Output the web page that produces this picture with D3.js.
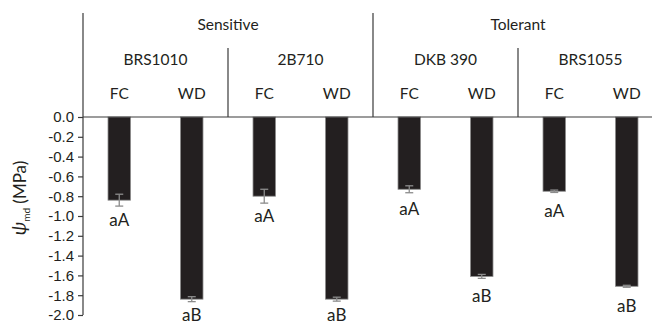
<!DOCTYPE html>
<html>
<head>
<meta charset="utf-8">
<script src="https://cdn.jsdelivr.net/npm/d3@7"></script>
<style>
  html, body { margin: 0; padding: 0; background: #fff; }
  svg { display: block; font-family: Lato, "Open Sans", sans-serif; }
</style>
</head>
<body>
<svg id="chart" width="652" height="325"></svg>
<script>
// ---- data ----
const groups = ["Sensitive", "Tolerant"];
const cultivars = ["BRS1010", "2B710", "DKB 390", "BRS1055"];
const cultivarGroup = ["Sensitive", "Sensitive", "Tolerant", "Tolerant"];
const treatments = ["FC", "WD"];
const values = [-0.84, -1.84, -0.80, -1.84, -0.73, -1.61, -0.75, -1.71];
const errors = [0.06, 0.025, 0.07, 0.02, 0.035, 0.02, 0.012, 0.01];
const letters = ["aA", "aB", "aA", "aB", "aA", "aB", "aA", "aB"];
const yTicks = [0, -0.2, -0.4, -0.6, -0.8, -1.0, -1.2, -1.4, -1.6, -1.8, -2.0];

// ---- build ----
const cats = [];
cultivars.forEach((c, ci) => treatments.forEach((t, ti) => {
  const i = ci * treatments.length + ti;
  cats.push({ id: c + "|" + t, cultivar: c, group: cultivarGroup[ci], treat: t,
              value: values[i], err: errors[i], letter: letters[i] });
}));

const svg = d3.select("#chart");
const left = 83, right = 663, zeroY = 117, bottomY = 315, topY = 13;
const textColor = "#231f20";
const lineColor = "#3a3a3a";

const x = d3.scaleBand().domain(cats.map(d => d.id)).range([left, right])
  .paddingInner(0.69).paddingOuter(0.345);
const y = d3.scaleLinear().domain([-2, 0]).range([bottomY, zeroY]);

const step = x.step();
function spanOf(filterFn) {
  const ids = cats.filter(filterFn).map(d => d.id);
  const xs = ids.map(id => x(id));
  const x0 = d3.min(xs) - (step - x.bandwidth()) / 2;
  const x1 = d3.max(xs) + x.bandwidth() + (step - x.bandwidth()) / 2;
  return [x0, x1];
}

// y axis
const yAxis = d3.axisLeft(y).tickValues(yTicks).tickSize(5).tickPadding(4)
  .tickFormat(d => d3.format(".1f")(d).replace("−", "-"));
const gy = svg.append("g").attr("transform", `translate(${left},0)`).call(yAxis);
gy.select(".domain").remove();
gy.selectAll(".tick line").attr("stroke", lineColor).attr("stroke-width", 1.2);
gy.selectAll(".tick text").attr("fill", textColor).style("font-size", "15px");

svg.append("line").attr("x1", left).attr("x2", left).attr("y1", topY).attr("y2", bottomY)
  .attr("stroke", lineColor).attr("stroke-width", 1.2);

groups.forEach((g, gi) => {
  const [x0, x1] = spanOf(d => d.group === g);
  if (gi > 0) svg.append("line").attr("x1", x0).attr("x2", x0).attr("y1", topY).attr("y2", zeroY)
    .attr("stroke", lineColor).attr("stroke-width", 1.2);
  svg.append("text").attr("x", (x0 + x1) / 2).attr("y", 30).attr("text-anchor", "middle")
    .attr("fill", textColor).style("font-size", "15.5px").text(g);
});
cultivars.forEach((c, ci) => {
  const [x0, x1] = spanOf(d => d.cultivar === c);
  if (ci > 0 && cultivarGroup[ci] === cultivarGroup[ci - 1])
    svg.append("line").attr("x1", x0).attr("x2", x0).attr("y1", 48).attr("y2", zeroY)
      .attr("stroke", lineColor).attr("stroke-width", 1.2);
  svg.append("text").attr("x", (x0 + x1) / 2).attr("y", 65).attr("text-anchor", "middle")
    .attr("fill", textColor).style("font-size", "15.5px").text(c);
});
svg.selectAll("text.treat").data(cats).join("text").attr("class", "treat")
  .attr("x", d => x(d.id) + x.bandwidth() / 2).attr("y", 99).attr("text-anchor", "middle")
  .attr("fill", textColor).style("font-size", "15.5px").text(d => d.treat);

// bars
svg.selectAll("rect.bar").data(cats).join("rect").attr("class", "bar")
  .attr("x", d => x(d.id)).attr("width", x.bandwidth())
  .attr("y", y(0)).attr("height", d => y(d.value) - y(0))
  .attr("fill", "#231f20").attr("stroke", "#8a8a8a").attr("stroke-width", 0.8);

svg.append("line").attr("x1", left).attr("x2", 652).attr("y1", y(0)).attr("y2", y(0))
  .attr("stroke", lineColor).attr("stroke-width", 1.2);

// error bars
const eg = svg.selectAll("g.err").data(cats).join("g").attr("class", "err")
  .attr("stroke", "#8c8c8c").attr("stroke-width", 1.3);
eg.append("line").attr("x1", d => x(d.id) + x.bandwidth() / 2).attr("x2", d => x(d.id) + x.bandwidth() / 2)
  .attr("y1", d => y(d.value + d.err)).attr("y2", d => y(d.value - d.err));
[1, -1].forEach(s => {
  eg.append("line").attr("x1", d => x(d.id) + x.bandwidth() / 2 - 4).attr("x2", d => x(d.id) + x.bandwidth() / 2 + 4)
    .attr("y1", d => y(d.value + s * d.err)).attr("y2", d => y(d.value + s * d.err));
});

// letters (kept inside the picture)
svg.selectAll("text.letter").data(cats).join("text").attr("class", "letter")
  .attr("x", d => x(d.id) + x.bandwidth() / 2).attr("y", d => Math.min(y(d.value) + 26, 321))
  .attr("text-anchor", "middle").attr("fill", textColor).style("font-size", "17px").text(d => d.letter);

// y title
const yt = svg.append("text").attr("transform", "translate(26,198) rotate(-90)")
  .attr("text-anchor", "middle").attr("fill", textColor).style("font-size", "17px");
yt.append("tspan").style("font-style", "italic").style("font-size", "19px").text("ψ");
yt.append("tspan").attr("dy", 4).style("font-size", "10px").text("md");
yt.append("tspan").attr("dy", -4).text(" (MPa)");
</script>
</body>
</html>
